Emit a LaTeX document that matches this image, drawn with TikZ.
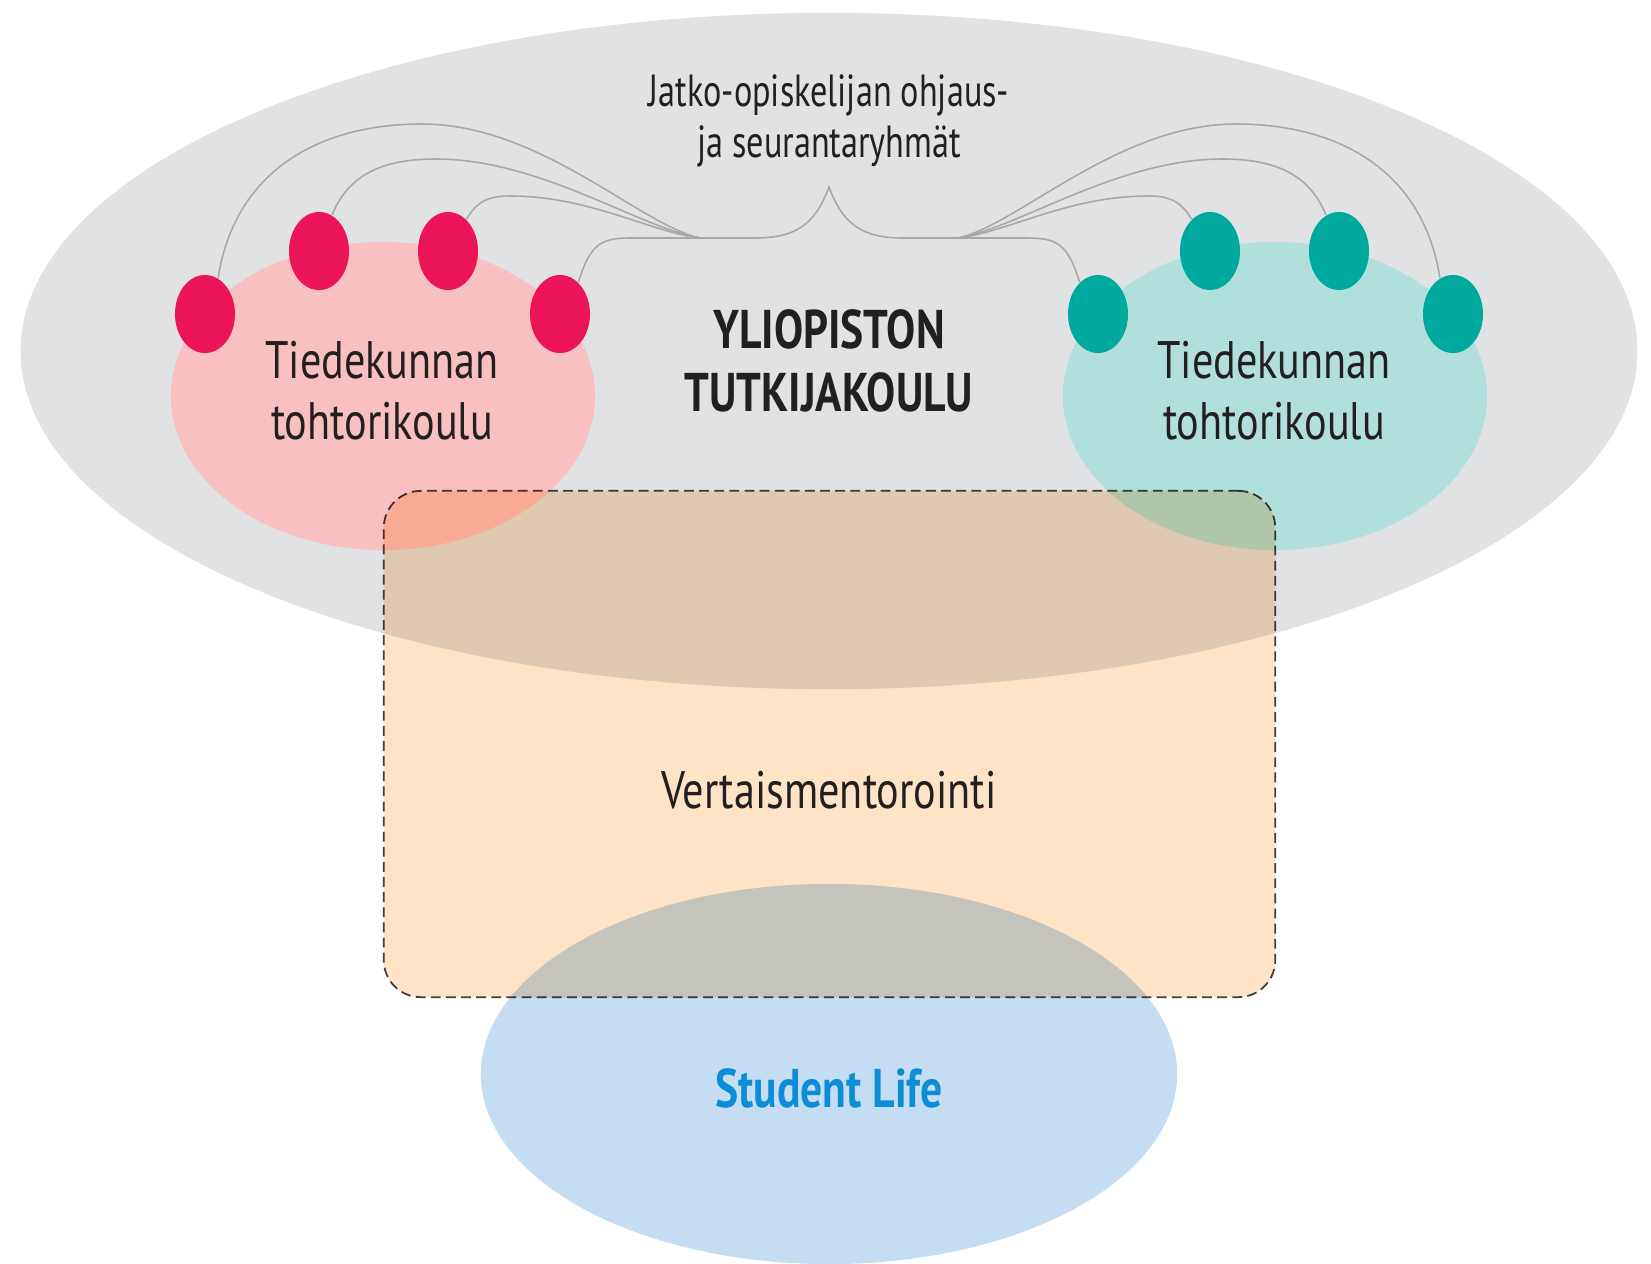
\documentclass[tikz,border=0pt]{standalone}
\usepackage{fontspec}
\setmainfont{PT Sans}[FakeStretch=0.8]
\usetikzlibrary{shapes.geometric}

\definecolor{ygray}{HTML}{E1E2E4}
\definecolor{pinkbg}{HTML}{F9C0C1}
\definecolor{magdot}{HTML}{EC1459}
\definecolor{tealbg}{HTML}{B1DFDB}
\definecolor{tealdot}{HTML}{00A99D}
\definecolor{peach}{HTML}{FEE3C6}
\definecolor{lblue}{HTML}{C5DDF3}
\definecolor{sltext}{HTML}{0D8DD5}
\definecolor{linkgray}{HTML}{A7A8AA}
\definecolor{txt}{HTML}{231F20}

\tikzset{
    dotmag/.style={ellipse, fill=magdot, minimum width=0.6cm,
        minimum height=0.78cm, inner sep=0pt},
    dotteal/.style={dotmag, fill=tealdot},
    link/.style={draw=linkgray, line width=0.45pt},
    lbl/.style={text=txt, align=center, inner sep=0pt},
}

\begin{document}
\begin{tikzpicture}[x=0.01cm, y=-0.01cm]
    \useasboundingbox (0,0) rectangle (1651,1263);
    % big ellipse and the two faculty schools
    \node (yliopisto) [ellipse, fill=ygray, minimum width=16.16cm,
        minimum height=6.76cm] at (829,351) {};
    \node (tdkL) [ellipse, fill=pinkbg, minimum width=4.24cm,
        minimum height=3.08cm] at (383,396) {};
    \node (tdkR) [ellipse, fill=tealbg, minimum width=4.24cm,
        minimum height=3.08cm] at (1275,396) {};
    % the dots
    \node (mag1) [dotmag] at (205,314) {};
    \node (mag2) [dotmag] at (319,251) {};
    \node (mag3) [dotmag] at (448,251) {};
    \node (mag4) [dotmag] at (560,314) {};
    \node (teal1) [dotteal] at (1098,314) {};
    \node (teal2) [dotteal] at (1210,251) {};
    \node (teal3) [dotteal] at (1339,251) {};
    \node (teal4) [dotteal] at (1453,314) {};
    % brace and links
    \coordinate (bL) at (700,238);
    \coordinate (bR) at (958,238);
    \coordinate (tip) at (829,187);
    \draw[link] (bL) -- (755,238) .. controls (795,238) and (815,225) .. (tip)
        .. controls (843,225) and (863,238) .. (903,238) -- (bR);
    \draw[link] (mag1.70) .. controls (235,170) and (320,124) .. (422,124)
        .. controls (540,124) and (640,225) .. (bL);
    \draw[link] (mag2.70) .. controls (350,170) and (390,159) .. (436,159)
        .. controls (540,159) and (640,228) .. (bL);
    \draw[link] (mag3.60) .. controls (478,200) and (490,196) .. (510,196)
        .. controls (590,196) and (650,232) .. (bL);
    \draw[link] (mag4.60) .. controls (590,245) and (600,238) .. (630,238) -- (bL);
    \draw[link] (teal4.110) .. controls (1423,170) and (1338,124) .. (1236,124)
        .. controls (1118,124) and (1018,225) .. (bR);
    \draw[link] (teal3.110) .. controls (1308,170) and (1268,159) .. (1222,159)
        .. controls (1118,159) and (1018,228) .. (bR);
    \draw[link] (teal2.120) .. controls (1180,200) and (1168,196) .. (1148,196)
        .. controls (1068,196) and (1008,232) .. (bR);
    \draw[link] (teal1.120) .. controls (1068,245) and (1058,238) .. (1028,238) -- (bR);
    % texts
    \node (ohjaus) [lbl, font=\fontsize{12.8}{14.6}\selectfont\addfontfeature{FakeStretch=0.76}]
        at (829,121) {Jatko-opiskelijan ohjaus-\\ja seurantaryhmät};
    \node (tutkija) [lbl, font=\fontsize{15.5}{17.8}\selectfont\bfseries] at (829,361)
        {YLIOPISTON\\TUTKIJAKOULU};
    \node (tdkLtxt) [lbl, font=\fontsize{15}{17.4}\selectfont] at (382,391)
        {Tiedekunnan\\tohtorikoulu};
    \node (tdkRtxt) [lbl, font=\fontsize{15}{17.4}\selectfont] at (1274,391)
        {Tiedekunnan\\tohtorikoulu};
    % peer mentoring and student life, multiplied over the rest
    \begin{scope}[blend mode=multiply]
        \node (mentor) [draw=txt!85, fill=peach, line width=0.5pt,
            dash pattern=on 2.8pt off 1.5pt, rounded corners=0.37cm,
            minimum width=8.91cm, minimum height=5.06cm] at (829.5,744) {};
        \node (studentlife) [ellipse, fill=lblue, minimum width=6.96cm,
            minimum height=3.8cm] at (829,1074) {};
    \end{scope}
    \node (vertais) [lbl, anchor=base, font=\fontsize{15}{17.4}\selectfont]
        at (829,808) {Vertaismentorointi};
    \node (sltxt) [lbl, anchor=base, text=sltext,
        font=\fontsize{15.5}{17}\selectfont\bfseries] at (829,1107) {Student Life};
\end{tikzpicture}
\end{document}
